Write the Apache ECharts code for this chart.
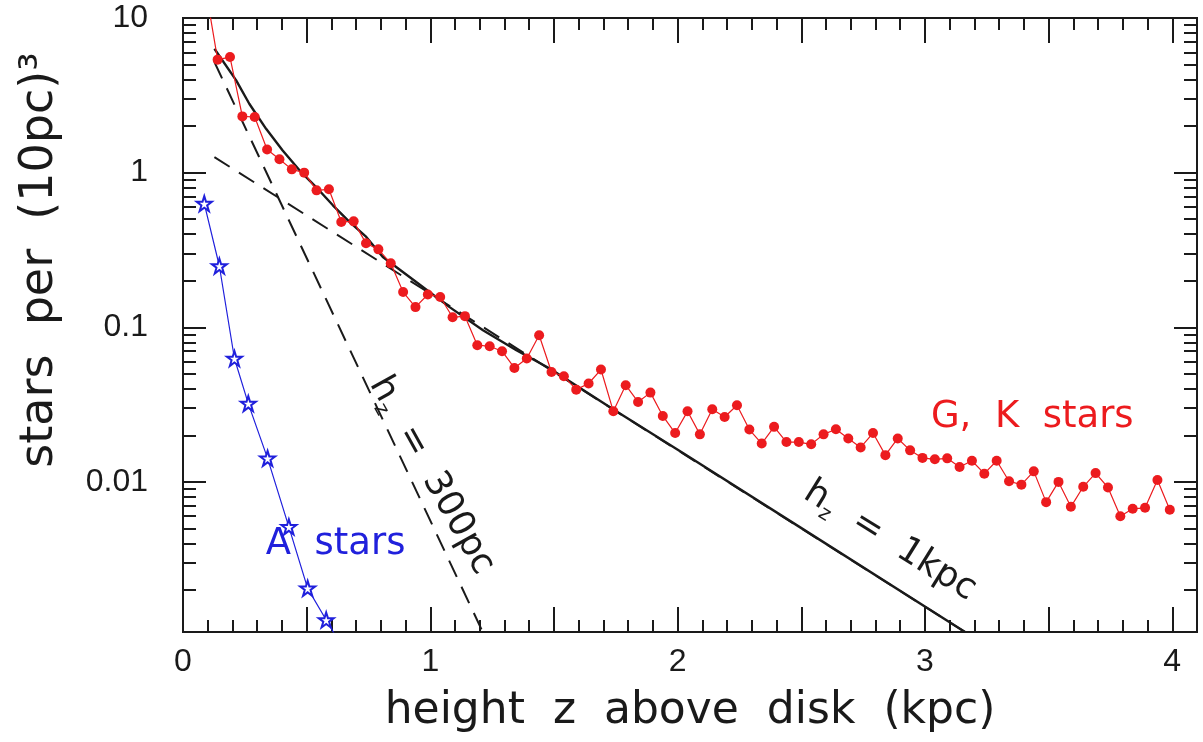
<!DOCTYPE html>
<html>
<head>
<meta charset="utf-8">
<script src="https://cdn.jsdelivr.net/npm/echarts@6/dist/echarts.min.js"></script>
<style>
  html, body { margin: 0; padding: 0; background: #fff; }
  #main { width: 1203px; height: 742px; }
</style>
</head>
<body>
<div id="main"></div>
<script>
// G, K stars (red dots)
var gkZ = [0.09, 0.14, 0.19, 0.24, 0.29, 0.34, 0.39, 0.44, 0.49, 0.54, 0.59, 0.64, 0.69, 0.74, 0.79,
  0.84, 0.89, 0.94, 0.99, 1.04, 1.09, 1.14, 1.19, 1.24, 1.29, 1.34, 1.39, 1.44, 1.49, 1.54, 1.59,
  1.64, 1.69, 1.74, 1.79, 1.84, 1.89, 1.94, 1.99, 2.04, 2.09, 2.14, 2.19, 2.24, 2.29, 2.34, 2.39,
  2.44, 2.49, 2.54, 2.59, 2.64, 2.69, 2.74, 2.79, 2.84, 2.89, 2.94, 2.99, 3.04, 3.09, 3.14, 3.19,
  3.24, 3.29, 3.34, 3.39, 3.44, 3.49, 3.54, 3.59, 3.64, 3.69, 3.74, 3.79, 3.84, 3.89, 3.94, 3.99];
var gkDensity = [16, 5.38, 5.59, 2.31, 2.29, 1.41, 1.22, 1.05, 1.0, 0.768, 0.78, 0.48, 0.484, 0.349, 0.319,
  0.259, 0.169, 0.135, 0.163, 0.157, 0.116, 0.118, 0.0766, 0.0754, 0.070, 0.0546, 0.0628, 0.0888, 0.0514, 0.0482, 0.0395,
  0.0433, 0.0533, 0.0286, 0.0422, 0.0329, 0.0378, 0.0267, 0.0207, 0.0286, 0.0203, 0.0295, 0.0263, 0.0313, 0.0218, 0.0177, 0.0227,
  0.0181, 0.0181, 0.0175, 0.0203, 0.0219, 0.0191, 0.0167, 0.0207, 0.0149, 0.0191, 0.0160, 0.0143, 0.0140, 0.0142, 0.0125, 0.0137,
  0.0113, 0.0137, 0.0101, 0.0096, 0.0117, 0.0074, 0.0100, 0.0069, 0.0093, 0.0114, 0.0092, 0.0060, 0.0067, 0.0068, 0.0103, 0.0066];

// A stars (blue stars)
var aZ = [0.086, 0.147, 0.208, 0.264, 0.342, 0.428, 0.504, 0.579, 0.66];
var aDensity = [0.630, 0.249, 0.0628, 0.0321, 0.0142, 0.00512, 0.00205, 0.00128, 0.00077];

// model curves
var thinZ = [0.127, 1.212];
var thinDensity = [5.19, 0.00107];
var thickZ = [0.127, 3.162];
var thickDensity = [1.26, 0.00107];
var totalZ = [0.127, 0.215, 0.268, 0.336, 0.403, 0.471, 0.538, 0.606, 0.673, 0.741, 0.808, 0.943,
  1.078, 1.213, 1.348, 1.483, 1.739, 2.023, 2.494, 3.162];
var totalDensity = [6.33, 3.95, 2.79, 1.92, 1.39, 1.035, 0.807, 0.615, 0.480, 0.384, 0.285, 0.196,
  0.135, 0.0957, 0.0710, 0.0541, 0.0295, 0.0153, 0.00510, 0.00107];

// axes
var yTickValues = [0.01, 0.1, 1, 10];
var yTickLabels = ['0.01', '0.1', '1', '10'];
var yMin = 0.00107, yMax = 10;
var xMin = 0, xMax = 4.1;

var RED = '#ec1b1e', BLUE = '#2020dc', INK = '#1a1a1a';

function pairs(xs, ys) {
  return xs.map(function (x, i) { return [x, ys[i]]; });
}

// minor log ticks 2..9 of each decade
var yMinor = [];
[0.001, 0.01, 0.1, 1].forEach(function (d) {
  for (var m = 2; m <= 9; m++) {
    var v = +(d * m).toPrecision(3);
    if (v > yMin && v < yMax) yMinor.push(v);
  }
});

var chart = echarts.init(document.getElementById('main'));

function xAxisDef(pos, interval, len, withLabel) {
  return {
    type: 'value', position: pos, min: xMin, max: xMax, interval: interval,
    axisLine: { show: true, onZero: false, lineStyle: { color: INK, width: 2 } },
    axisTick: { show: true, inside: true, length: len, lineStyle: { color: INK, width: 2 } },
    axisLabel: withLabel ? {
      show: true, margin: 14, color: INK, fontSize: 32, fontFamily: 'Liberation Sans',
      formatter: function (v) { return Number.isInteger(v) ? String(v) : ''; }
    } : { show: false },
    splitLine: { show: false }
  };
}

function yAxisDef(pos, values, len, withLabel) {
  return {
    type: 'log', logBase: 10, position: pos, min: yMin, max: yMax,
    axisLine: { show: true, onZero: false, lineStyle: { color: INK, width: 2 } },
    axisTick: { show: true, inside: true, length: len, customValues: values, lineStyle: { color: INK, width: 2 } },
    axisLabel: withLabel ? {
      show: true, margin: 35, color: INK, fontSize: 32, fontFamily: 'Liberation Sans',
      customValues: yTickValues,
      formatter: function (v) {
        var i = yTickValues.findIndex(function (t) { return Math.abs(t - v) / t < 1e-6; });
        return i >= 0 ? yTickLabels[i] : '';
      }
    } : { show: false },
    splitLine: { show: false }
  };
}

var xAxes = [
  xAxisDef('bottom', 0.5, 25, true),
  xAxisDef('bottom', 0.1, 12, false),
  xAxisDef('top', 0.5, 25, false),
  xAxisDef('top', 0.1, 12, false)
];
xAxes[0].name = 'height  z  above  disk  (kpc)';
xAxes[0].nameLocation = 'middle';
xAxes[0].nameGap = 58;
xAxes[0].nameTextStyle = { fontSize: 44, fontFamily: 'DejaVu Sans', color: INK };

var yAxes = [
  yAxisDef('left', yTickValues, 23, true),
  yAxisDef('left', yMinor, 13, false),
  yAxisDef('right', yTickValues, 23, false),
  yAxisDef('right', yMinor, 13, false)
];

var starPath = 'path://M50,2 L61,36 L97,36 L68,57 L79,92 L50,71 L21,92 L32,57 L3,36 L39,36 Z';

chart.setOption({
  animation: false,
  backgroundColor: '#fff',
  grid: { left: 183, right: 6, top: 18, bottom: 110, containLabel: false },
  xAxis: xAxes,
  yAxis: yAxes,
  series: [
    {
      name: 'thin disk', type: 'line', data: pairs(thinZ, thinDensity), showSymbol: false,
      lineStyle: { color: INK, width: 2, type: [18, 11] }, clip: true, z: 2
    },
    {
      name: 'thick disk', type: 'line', data: pairs(thickZ, thickDensity), showSymbol: false,
      lineStyle: { color: INK, width: 2, type: [18, 11] }, clip: true, z: 2
    },
    {
      name: 'total', type: 'line', data: pairs(totalZ, totalDensity), showSymbol: false,
      smooth: false,
      lineStyle: { color: INK, width: 2.4 }, clip: true, z: 3
    },
    {
      name: 'G, K stars', type: 'line', data: pairs(gkZ, gkDensity),
      symbol: 'circle', symbolSize: 10,
      itemStyle: { color: RED }, lineStyle: { color: RED, width: 1.2 }, clip: true, z: 4
    },
    {
      name: 'A stars', type: 'line', data: pairs(aZ, aDensity),
      symbol: starPath, symbolSize: 15,
      itemStyle: { color: '#fff', borderColor: BLUE, borderWidth: 2 },
      lineStyle: { color: BLUE, width: 1.2 }, clip: true, z: 4
    }
  ]
});

// annotations anchored in data coordinates
var notes = [
  { at: [3.434, 0.0262], rot: 0, color: RED, size: 37, text: 'G,  K  stars' },
  { at: [0.617, 0.00396], rot: 0, color: BLUE, size: 37, text: 'A  stars' },
  { at: [1.005, 0.0110], rot: -1.061, color: INK, size: 36, text: '{h|h}{s|z}{h|  =  300pc}' },
  { at: [2.859, 0.00414], rot: -0.557, color: INK, size: 36, text: '{h|h}{s|z}{h|  =  1kpc}' }
];

var graphics = notes.map(function (n) {
  var p = chart.convertToPixel({ xAxisIndex: 0, yAxisIndex: 0 }, n.at);
  return {
    type: 'text', x: p[0], y: p[1], rotation: n.rot, z: 10,
    style: {
      text: n.text, fill: n.color, fontSize: n.size, fontFamily: 'DejaVu Sans',
      align: 'center', verticalAlign: 'middle',
      rich: {
        h: { fontSize: n.size, fontFamily: 'DejaVu Sans', fill: n.color, lineHeight: 44, verticalAlign: 'middle' },
        s: { fontSize: 20, fontFamily: 'DejaVu Sans', fill: n.color, lineHeight: 18, verticalAlign: 'bottom' }
      }
    }
  };
});

graphics.push({
  type: 'text', x: 40, y: 260, rotation: Math.PI / 2, z: 10,
  style: {
    text: 'stars  per  (10pc)³', fill: INK, fontSize: 46, fontFamily: 'DejaVu Sans',
    align: 'center', verticalAlign: 'middle'
  }
});

chart.setOption({ graphic: graphics });
</script>
</body>
</html>
